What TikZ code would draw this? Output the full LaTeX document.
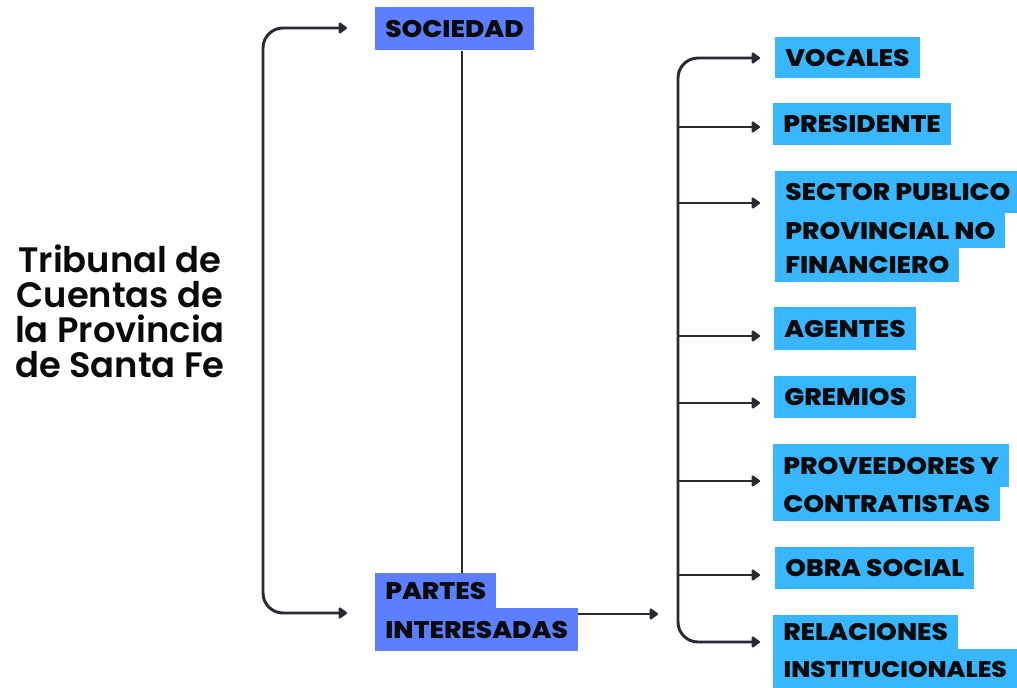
\documentclass[tikz,border=0pt]{standalone}
\usepackage{fontspec}
\setmainfont{Poppins}
\newfontfamily\titlefont{Poppins SemiBold}
\newfontfamily\lblfont{Poppins ExtraBold}[FakeStretch=1.1]
\usetikzlibrary{arrows.meta,calc}
\definecolor{lineC}{HTML}{2D2832}
\definecolor{blueA}{HTML}{5B7FFF}
\definecolor{cyanA}{HTML}{38B6FF}
\definecolor{txtC}{HTML}{0A0A0A}
\tikzset{
  lbl/.style={anchor=north west, inner xsep=7.5pt, inner ysep=0pt,
    font=\lblfont\fontsize{18}{18}\selectfont, text=txtC,
    text height=12.6pt, text depth=0pt},
  hgt/.style={minimum height=#1*0.75pt},
  bluebox/.style={lbl, fill=blueA},
  cyanbox/.style={lbl, fill=cyanA},
  conn/.style={draw=lineC, line width=2.2pt},
  tip/.style={-{Triangle[length=7pt,width=9.5pt,round]}},
}
\begin{document}
\begin{tikzpicture}[x=0.75pt,y=-0.75pt]
\useasboundingbox (0,0) rectangle (1017,688);

% title
\node[align=center, text=txtC, font=\titlefont\fontsize{26.5}{26.25}\selectfont] (title) at (120,311)
  {Tribunal de\\Cuentas de\\la Provincia\\de Santa Fe};

% middle column
\node[bluebox, hgt=43] (soc) at (375,7) {SOCIEDAD};
\node[bluebox, hgt=43] (partes2) at (375,608) {INTERESADAS};
\node[bluebox, hgt=35] (partes1) at (375,573) {PARTES};

% right column
\node[cyanbox, hgt=41] (voc) at (775,37) {VOCALES};
\node[cyanbox, hgt=42] (pres) at (773,103) {PRESIDENTE};
\node[cyanbox, hgt=34] (sec3) at (775,248) {FINANCIERO};
\node[cyanbox, hgt=35] (sec2) at (775,213) {PROVINCIAL NO};
\node[cyanbox, hgt=42] (sec1) at (775,171) {SECTOR PUBLICO};
\node[cyanbox, hgt=43] (age) at (774,307) {AGENTES};
\node[cyanbox, hgt=42] (gre) at (774,376) {GREMIOS};
\node[cyanbox, hgt=34] (prov2) at (773,487) {CONTRATISTAS};
\node[cyanbox, hgt=43] (prov1) at (773,444) {PROVEEDORES Y};
\node[cyanbox, hgt=42] (obra) at (775,547) {OBRA SOCIAL};
\node[cyanbox, hgt=39, minimum width=244*0.75pt, inner xsep=5pt] (rel2) at (773,649)
  {\fontsize{17}{18}\selectfont INSTITUCIONALES};
\node[cyanbox, hgt=34] (rel1) at (773,615) {RELACIONES};

% connector end points
\coordinate (lTop) at (347,28);
\coordinate (lBot) at (347,613);
\coordinate (lMid) at (263,320);
\coordinate (vX) at (462,0);
\coordinate (pOut) at ($(partes2.north east)+(0,6)$);
\coordinate (pTip) at (658,614);
\coordinate (rMid) at (678,350);
\coordinate (tVoc) at (760,58);
\coordinate (tPres) at (760,127);
\coordinate (tSec) at (760,203);
\coordinate (tAge) at (760,336);
\coordinate (tGre) at (760,403);
\coordinate (tProv) at (760,481);
\coordinate (tObra) at (760,575);
\coordinate (tRel) at (760,642);

% left bracket
\draw[conn, tip, rounded corners=15pt] (lMid) |- (lTop);
\draw[conn, tip, rounded corners=15pt] (lMid) |- (lBot);
% vertical link
\draw[conn] (soc.south -| vX) -- (partes1.north -| vX);
% partes arrow
\draw[conn, tip] (pOut) -- (pTip |- pOut);
% right bracket
\draw[conn, tip, rounded corners=15pt] (rMid) |- (tVoc);
\draw[conn, tip, rounded corners=15pt] (rMid) |- (tRel);
\draw[conn, tip] (rMid |- tPres) -- (tPres);
\draw[conn, tip] (rMid |- tSec) -- (tSec);
\draw[conn, tip] (rMid |- tAge) -- (tAge);
\draw[conn, tip] (rMid |- tGre) -- (tGre);
\draw[conn, tip] (rMid |- tProv) -- (tProv);
\draw[conn, tip] (rMid |- tObra) -- (tObra);
\end{tikzpicture}
\end{document}
